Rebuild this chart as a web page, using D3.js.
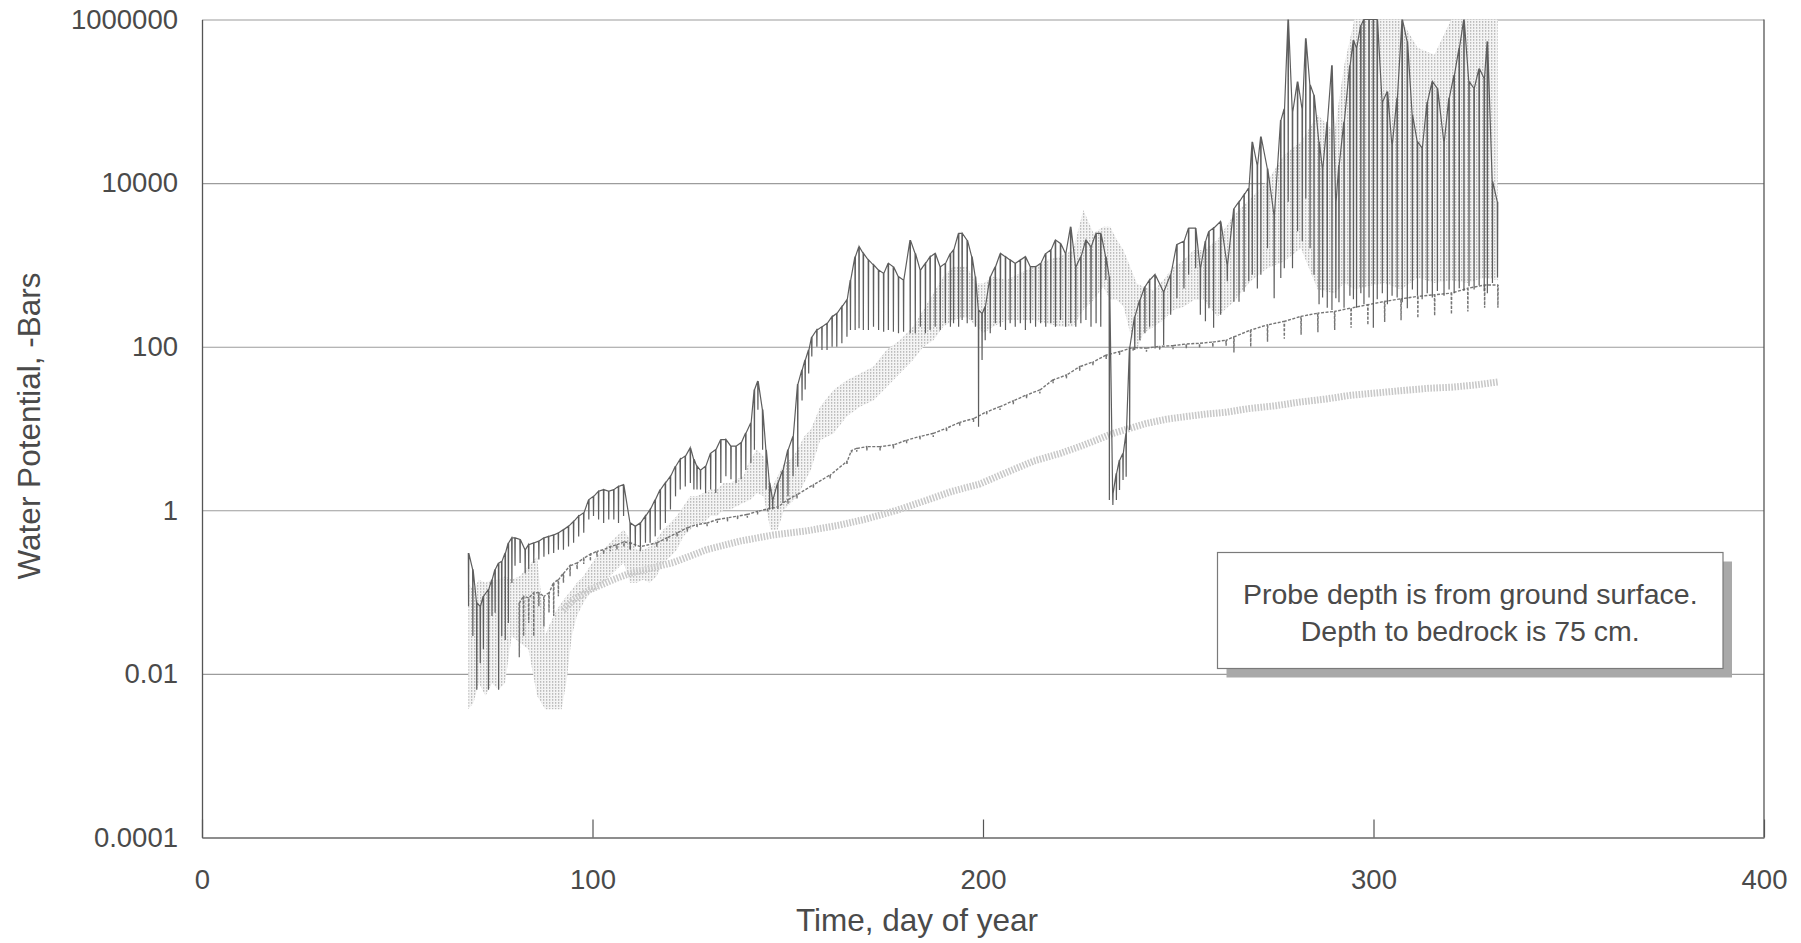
<!DOCTYPE html>
<html>
<head>
<meta charset="utf-8">
<script src="https://cdn.jsdelivr.net/npm/d3@7"></script>
<style>
  html, body { margin: 0; padding: 0; background: #ffffff; }
  svg { display: block; }
  text { font-family: "Liberation Sans", Arial, Helvetica, sans-serif; fill: #4a4a4a; }
</style>
</head>
<body>
<svg id="chart" width="1801" height="943"></svg>
<script>
// Axis ticks
const xTicks = [0, 100, 200, 300, 400];
const yTicks = [1e-4, 1e-2, 1, 1e2, 1e4, 1e6];
const yTickLabels = ["0.0001", "0.01", "1", "100", "10000", "1000000"];

// Each row: [day of year, daily low, daily high] water potential in -bars
const probeA = [
  [68.2,0.067,0.30],[69.3,0.029,0.19],[70.3,0.0064,0.074],[71.2,0.0136,0.067],[72.0,0.020,0.089],
  [73.3,0.0064,0.107],[74.2,0.051,0.142],[75.0,0.056,0.19],[75.9,0.0064,0.227],[76.7,0.029,0.238],
  [77.6,0.026,0.30],[78.4,0.042,0.40],[79.3,0.129,0.46],[80.1,0.21,0.46],[81.4,0.227,0.44],
  [82.7,0.17,0.33],[83.6,0.19,0.38],[84.9,0.227,0.40],[86.2,0.25,0.42],[87.5,0.27,0.46],
  [88.7,0.29,0.48],[90.0,0.30,0.50],[91.2,0.33,0.53],[92.5,0.33,0.58],[93.8,0.36,0.64],
  [95.1,0.40,0.73],[96.4,0.48,0.85],[97.7,0.53,0.93],[99.0,0.77,1.35],[100.2,0.85,1.48],
  [101.5,0.77,1.71],[102.8,0.70,1.79],[104.1,0.77,1.71],[105.4,0.77,1.79],[106.6,0.70,1.96],
  [107.9,0.85,2.06],[109.6,0.33,0.70],[110.9,0.36,0.64],[112.2,0.36,0.70],[113.5,0.40,0.85],
  [114.7,0.40,1.02],[116.0,0.48,1.35],[117.3,0.58,1.79],[118.6,0.70,2.16],[119.9,1.02,2.6],
  [121.2,1.48,3.45],[122.4,1.79,4.2],[123.7,1.96,4.6],[125.0,2.16,5.8],[125.9,1.79,4.2],
  [126.7,1.79,3.45],[127.6,1.79,3.1],[128.9,1.63,3.45],[130.2,1.79,5.0],[131.5,1.63,5.5],
  [132.8,2.16,7.3],[134.1,2.6,7.3],[135.4,2.4,6.1],[136.7,2.16,6.1],[138.0,2.4,6.7],
  [139.2,3.1,8.8],[140.5,3.8,11.7],[141.4,5.5,30],[142.3,17,38],[143.5,5.5,17],
  [144.4,1.79,5.5],[145.3,1.02,2.16],[146.1,1.02,1.35],[147.4,1.12,2.16],[148.7,1.23,3.1],
  [150.0,1.48,5.5],[151.3,2.6,8.0],[152.5,3.4,35],[153.6,22,52],[154.4,30,69],
  [155.3,47,91],[156.1,76,132],[157.4,100,160],[158.7,91,175],[160.0,91,193],
  [161.3,100,233],[162.5,100,255],[163.8,110,308],[165.1,132,372],[166.0,160,653],
  [167.2,160,1260],[168.2,168,1670],[169.3,160,1380],[170.6,160,1150],[171.9,175,1000],
  [173.2,160,865],[174.5,152,790],[175.7,160,1045],[177.0,152,950],[178.3,146,718],
  [179.6,152,653],[181.3,146,2010],[182.6,146,1380],[183.9,175,865],[185.2,146,1045],
  [186.4,160,1260],[187.7,175,1380],[189.0,160,950],[190.3,193,1045],[191.6,175,1380],
  [192.4,193,1520],[193.7,175,2430],[194.6,212,2430],[195.9,193,2010],[197.1,212,1260],
  [198.0,175,718],[198.8,10.5,281],[199.7,69,255],[200.5,120,308],[201.8,146,718],
  [203.1,193,950],[204.4,175,1380],[205.7,160,1260],[206.9,193,1150],[208.2,175,1045],
  [209.5,193,1150],[210.8,160,1260],[212.1,193,950],[213.4,175,950],[214.7,193,1045],
  [216.0,175,1380],[217.3,193,1520],[218.5,175,2010],[219.8,212,1830],[221.1,175,1380],
  [222.4,193,2930],[223.7,175,950],[225.0,193,1260],[226.3,212,2010],[227.6,175,1670],
  [228.9,193,2430],[230.1,175,2430],[231.4,653,1260],[232.3,1.34,718],[233.2,1.16,1.61],
  [234.1,1.34,2.83],[234.9,1.77,4.1],[235.8,2.34,4.95],[236.6,2.58,8.7],[237.5,9.6,100],
  [238.8,91,233],[240.1,120,372],[241.4,146,540],[242.6,175,653],[244.0,95,760],
  [246.2,105,470],[248.0,245,760],[249.6,390,1780],[251.4,513,1950],[252.6,760,2820],
  [254.4,910,2820],[255.6,245,910],[256.9,204,1950],[257.8,295,2570],[259.0,170,2820],
  [260.8,245,3390],[262.5,630,1000],[264.2,355,4900],[265.5,355,5900],[266.8,470,7200],
  [268.0,630,8700],[268.9,760,32000],[270.2,513,16600],[271.1,760,37000],[272.8,1600,15100],
  [274.5,390,4070],[276.2,690,59000],[277.1,910,81000],[278.1,5900,1000000],[279.2,910,74000],
  [280.5,2570,174000],[281.7,1950,81000],[282.6,6500,590000],[283.7,1600,158000],[284.7,760,120000],
  [286.0,330,32000],[286.9,400,15100],[288.1,300,56000],[289.3,280,275000],[290.3,390,5900],
  [291.1,350,16600],[292.4,300,56000],[293.9,420,275000],[294.8,380,560000],[295.6,300,450000],
  [296.7,450,850000],[297.5,330,1000000],[298.8,400,1000000],[299.9,170,1000000],[300.9,380,1000000],
  [302.2,450,98000],[303.5,330,132000],[304.7,420,29500],[306.0,400,110000],[307.3,350,1000000],
  [308.6,295,540000],[309.9,500,68000],[311.2,420,32000],[312.4,380,27000],[313.7,450,98000],
  [315.0,400,174000],[316.3,480,145000],[318.0,420,32000],[319.3,500,110000],[320.6,450,209000],
  [321.9,520,450000],[323.1,480,1000000],[324.4,550,174000],[325.7,500,145000],[327.0,560,251000],
  [328.3,480,191000],[329.1,450,540000],[330.4,600,10500],[331.7,700,5900]
];

const probeB = [
  [68.2,0.0037,0.13],[69.5,0.0044,0.107],[70.9,0.0077,0.142],[72.6,0.0054,0.13],[74.3,0.0077,0.142],
  [75.9,0.0064,0.142],[77.6,0.0077,0.156],[79.3,0.029,0.142],[81.4,0.024,0.156],[83.6,0.020,0.21],
  [85.8,0.0054,0.27],[87.9,0.0037,0.03],[89.0,0.0037,0.04],[90.8,0.0037,0.06],[92.1,0.0037,0.075],
  [93.4,0.0085,0.09],[94.7,0.029,0.107],[96.0,0.051,0.13],[97.7,0.074,0.156],[99.4,0.098,0.21],
  [101.0,0.107,0.27],[102.8,0.13,0.33],[104.5,0.156,0.40],[106.2,0.19,0.48],[108.0,0.227,0.58],
  [109.6,0.13,0.44],[111.3,0.13,0.33],[113.0,0.142,0.33],[114.7,0.13,0.36],[116.4,0.156,0.44],
  [118.1,0.227,0.58],[119.9,0.27,0.70],[121.6,0.33,0.85],[123.3,0.48,1.12],[125.0,0.58,1.48],
  [126.7,0.70,1.48],[128.4,0.70,1.63],[130.2,0.85,1.79],[131.9,0.85,1.79],[133.6,1.02,2.16],
  [135.3,1.02,2.16],[137.0,1.12,2.4],[138.6,1.23,2.6],[140.4,1.35,4.2],[142.1,1.63,5.5],
  [143.8,1.48,4.6],[145.6,0.58,1.79],[147.4,0.58,2.6],[149.1,1.02,3.8],[150.8,1.23,4.2],
  [152.5,1.48,5.5],[154.2,2.16,8.0],[155.9,3.1,9.7],[158.3,7.2,18.5],[161.7,8.7,29.5],
  [165.1,14,39],[168.5,18.5,47],[171.9,22,57],[175.3,32,91],[178.7,47,120],
  [182.1,69,175],[184.7,100,281],[187.3,120,450],[189.8,175,718],[192.4,212,950],
  [195.8,233,950],[198.4,175,594],[200.1,146,594],[202.6,175,718],[206.0,212,653],
  [209.5,212,790],[212.9,212,950],[216.3,193,1150],[219.7,175,1260],[223.1,175,1520],
  [225.7,281,4700],[228.3,372,2430],[230.8,540,2930],[232.6,372,2930],[234.3,372,2010],
  [236.0,308,1520],[237.7,146,950],[239.4,91,594],[241.1,146,540],[243.7,175,490],
  [246.2,212,653],[248.8,281,950],[251.4,308,1150],[254.0,372,1520],[256.6,372,1520],
  [260.0,233,2010],[264.2,355,4070],[268.5,630,6500],[272.8,910,10500],[277.1,1100,22000],
  [281.4,1600,32000],[285.7,500,68000],[290.0,450,42000],[292.5,600,275000],[295.1,500,1000000],
  [298.5,550,1000000],[302.8,600,1000000],[307.0,500,1000000],[311.3,700,450000],[315.6,600,370000],
  [319.9,650,1000000],[324.1,600,1000000],[328.4,700,1000000],[331.8,650,1000000]
];

const probeC = [
  [81.2,0.016,0.074],[82.3,0.029,0.089],[83.6,0.042,0.085],[84.9,0.029,0.098],[86.2,0.067,0.098],
  [87.5,0.038,0.089],[88.8,0.056,0.098],[90.0,0.051,0.13],[91.2,0.089,0.142],[92.5,0.13,0.17],
  [94.2,0.156,0.21],[96.0,0.19,0.227],[97.7,0.22,0.26],[99.4,0.24,0.29],[101.1,0.27,0.315],
  [102.8,0.29,0.33],[104.5,0.315,0.36],[106.2,0.33,0.38],[108.0,0.355,0.41],[109.6,0.33,0.40],
  [112.2,0.315,0.36],[116.4,0.36,0.40],[119.0,0.42,0.46],[121.6,0.48,0.53],[124.2,0.55,0.61],
  [126.7,0.61,0.67],[129.3,0.64,0.70],[131.9,0.70,0.77],[134.5,0.73,0.81],[137.1,0.77,0.85],
  [139.6,0.81,0.89],[142.2,0.89,0.97],[144.8,0.97,1.04],[147.4,1.02,1.1],[150.0,1.2,1.35],
  [152.3,1.4,1.55],[156.5,1.85,2.05],[160.8,2.45,2.7],[165.1,3.6,3.95],[166.3,5.0,5.4],
  [167.6,5.2,5.7],[170.2,5.4,6.0],[173.6,5.4,6.0],[177.0,5.7,6.3],[180.4,6.6,7.2],
  [183.8,7.3,8.0],[187.2,7.9,8.7],[190.6,9.2,10.1],[194.0,10.8,11.9],[197.5,12.0,13.2],
  [200.9,14.6,16.0],[204.3,16.8,18.5],[207.7,19.8,21.8],[211.1,23.3,25.7],[214.5,26.9,29.6],
  [217.9,35.7,39.4],[221.3,41,45],[224.7,51,57],[228.1,59,65],[231.5,71,79],
  [234.9,79,87],[238.4,88,98],[241.8,87,96],[245.2,91,101],[248.6,93,103],
  [252.0,95,108],[255.4,96,110],[258.8,99,114],[262.2,103,120],[264.2,85,132],
  [268.5,100,160],[272.8,115,185],[277.1,125,204],[281.4,140,235],[285.7,150,257],
  [290.0,160,270],[294.2,170,297],[298.5,185,326],[302.8,200,358],[307.0,210,385],
  [311.3,225,412],[315.6,240,432],[319.9,250,452],[324.1,270,518],[328.4,300,568],
  [331.8,300,568]
];

// Deepest probe: [day of year, water potential]
const probeD = [
  [92.5,0.06],[95.0,0.08],[99.4,0.107],[105.3,0.142],[109.6,0.17],[113.9,0.19],
  [120.7,0.23],[129.2,0.33],[137.8,0.42],[146.3,0.50],[154.8,0.56],[163.3,0.66],
  [170.0,0.78],[177.9,1.0],[185.0,1.3],[192.0,1.7],[199.2,2.1],[206.0,2.9],
  [213.0,4.0],[220.0,5.0],[224.7,6.0],[229.0,7.2],[233.2,8.7],[237.5,10],
  [241.7,11.5],[247.0,13],[252.0,14],[257.0,15],[262.2,15.8],[268.0,17.5],
  [275.0,19],[281.0,21],[288.0,23],[294.2,25.5],[300.0,27],[307.0,29],
  [314.0,31],[320.0,32],[326.0,34],[331.8,37]
];

const noteLines = ["Probe depth is from ground surface.", "Depth to bedrock is 75 cm."];

// ---- layout ----
const plot = { left: 202, top: 19.5, right: 1764, bottom: 837.5 };
const x = d3.scaleLinear().domain([0, 400]).range([plot.left, plot.right]);
const y = d3.scaleLog().domain([1e-4, 1e6]).range([plot.bottom, plot.top]);
const svg = d3.select("#chart");

const defs = svg.append("defs");
defs.append("clipPath").attr("id", "plotClip")
  .append("rect")
  .attr("x", plot.left).attr("y", plot.top - 1)
  .attr("width", plot.right - plot.left).attr("height", plot.bottom - plot.top + 1);

// fine vertical dot texture used for the light probe's daily range
const dots = defs.append("pattern").attr("id", "dotFill")
  .attr("patternUnits", "userSpaceOnUse").attr("width", 3).attr("height", 3);
dots.append("rect").attr("width", 3).attr("height", 3).attr("fill", "#f4f4f4");
dots.append("rect").attr("x", 0).attr("y", 0).attr("width", 1.3).attr("height", 1.8).attr("fill", "#bcbcbc");

// horizontal gridlines
const grid = svg.append("g")
  .attr("transform", `translate(${plot.left},0)`)
  .call(d3.axisLeft(y).tickValues(yTicks).tickFormat("").tickSize(-(plot.right - plot.left)));
grid.select(".domain").remove();
grid.selectAll(".tick line").attr("stroke", "#9c9c9c").attr("stroke-width", 1.1);

// comb: run along the daily highs, dropping to each day's low
const combPoints = rows => rows.flatMap(r => [[r[0], r[2]], [r[0] + 0.06, r[1]], [r[0] + 0.12, r[2]]]);
const line = d3.line().x(d => x(d[0])).y(d => y(d[1]));
const band = d3.area().x(d => x(d[0])).y0(d => y(d[1])).y1(d => y(d[2]));

const marks = svg.append("g").attr("clip-path", "url(#plotClip)");

marks.append("path").datum(probeB)
  .attr("d", band).attr("fill", "url(#dotFill)").attr("stroke", "none");

marks.append("path").datum(probeD)
  .attr("d", line).attr("fill", "none")
  .attr("stroke", "#c9c9c9").attr("stroke-width", 7)
  .attr("stroke-dasharray", "1.6 1.4");

marks.append("path").datum(combPoints(probeC))
  .attr("d", line).attr("fill", "none")
  .attr("stroke", "#767676").attr("stroke-width", 1.4)
  .attr("stroke-dasharray", "3 1.5");

marks.append("path").datum(combPoints(probeA))
  .attr("d", line).attr("fill", "none")
  .attr("stroke", "#5e5e5e").attr("stroke-width", 1.2);

// axes
const yAxis = svg.append("g")
  .attr("transform", `translate(${plot.left},0)`)
  .call(d3.axisLeft(y).tickValues(yTicks)
    .tickFormat((d, i) => yTickLabels[i]).tickSize(0).tickPadding(24));
yAxis.select(".domain").attr("stroke", "#555").attr("stroke-width", 1.3);
yAxis.selectAll(".tick text").attr("font-size", 27.5).attr("fill", "#505050")
  .style("font-family", "'Liberation Sans', Arial, sans-serif");

const xAxis = svg.append("g")
  .attr("transform", `translate(0,${plot.bottom})`)
  .call(d3.axisBottom(x).tickValues(xTicks)
    .tickSizeInner(-18).tickSizeOuter(0).tickPadding(32));
xAxis.select(".domain").attr("stroke", "#777").attr("stroke-width", 1.3);
xAxis.selectAll(".tick line").attr("stroke", "#555").attr("stroke-width", 1.2);
xAxis.selectAll(".tick text").attr("font-size", 27.5).attr("fill", "#505050")
  .style("font-family", "'Liberation Sans', Arial, sans-serif");

// right edge of the frame
svg.append("line")
  .attr("x1", plot.right).attr("x2", plot.right)
  .attr("y1", plot.top).attr("y2", plot.bottom)
  .attr("stroke", "#555").attr("stroke-width", 1.3);

// axis titles
svg.append("text")
  .attr("transform", "translate(29,426) rotate(-90)")
  .attr("text-anchor", "middle").attr("dy", "0.35em")
  .attr("font-size", 31.5).attr("fill", "#505050")
  .text("Water Potential, -Bars");

svg.append("text")
  .attr("x", 917).attr("y", 920).attr("dy", "0.35em")
  .attr("text-anchor", "middle")
  .attr("font-size", 31.5).attr("fill", "#505050")
  .text("Time, day of year");

// note box with drop shadow
const box = { x: 1217.5, y: 552.5, w: 505.5, h: 116 };
svg.append("rect")
  .attr("x", box.x + 9).attr("y", box.y + 9)
  .attr("width", box.w).attr("height", box.h)
  .attr("fill", "#a9a9a9");
svg.append("rect")
  .attr("x", box.x).attr("y", box.y)
  .attr("width", box.w).attr("height", box.h)
  .attr("fill", "#ffffff").attr("stroke", "#7a7a7a").attr("stroke-width", 1.2);
svg.append("g").selectAll("text").data(noteLines).join("text")
  .attr("x", box.x + box.w / 2)
  .attr("y", (d, i) => box.y + 42 + i * 36.5)
  .attr("dy", "0.35em")
  .attr("text-anchor", "middle")
  .attr("font-size", 28.5).attr("fill", "#4a4a4a")
  .text(d => d);
</script>
</body>
</html>
